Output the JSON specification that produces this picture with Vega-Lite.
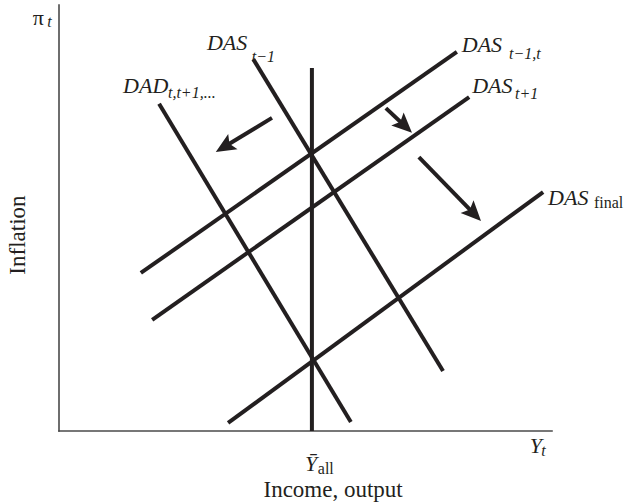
{
  "$schema": "https://vega.github.io/schema/vega-lite/v6.json",
  "width": 493,
  "height": 426,
  "autosize": {"type": "none"},
  "padding": {"left": 59, "top": 5, "right": 72, "bottom": 73},
  "background": "white",
  "config": {"view": {"stroke": null}},
  "datasets": {
    "frame": [
      {"side": "output axis", "x1": 0, "y1": 0, "x2": 100, "y2": 0},
      {"side": "inflation axis", "x1": 0, "y1": 0, "x2": 0, "y2": 100}
    ],
    "curves": [
      {"curve": "DAS t-1,t", "x1": 16.6, "y1": 37.1, "x2": 80.7, "y2": 89.0},
      {"curve": "DAS t+1", "x1": 18.9, "y1": 26.1, "x2": 83.2, "y2": 78.4},
      {"curve": "DAS final", "x1": 34.3, "y1": 1.9, "x2": 98.2, "y2": 56.1},
      {"curve": "DAD", "x1": 20.3, "y1": 76.8, "x2": 59.2, "y2": 2.1},
      {"curve": "DAS t-1", "x1": 39.4, "y1": 87.3, "x2": 77.9, "y2": 14.1},
      {"curve": "Y all", "x1": 51.3, "y1": 0, "x2": 51.3, "y2": 85.2}
    ],
    "arrows": [
      {"shift": "DAD left", "x": 43.2, "y": 73.5, "x2": 31.8, "y2": 65.5},
      {"shift": "DAS down", "x": 66.3, "y": 75.8, "x2": 71.6, "y2": 70.0},
      {"shift": "DAS final", "x": 73.0, "y": 64.3, "x2": 85.6, "y2": 49.3}
    ],
    "mainLabels": [
      {"label": "DAS", "x": 30.0, "y": 89.4},
      {"label": "DAD", "x": 13.0, "y": 79.3},
      {"label": "DAS", "x": 81.7, "y": 89.0},
      {"label": "DAS", "x": 83.8, "y": 79.3},
      {"label": "DAS", "x": 99.2, "y": 53.1},
      {"label": "Y", "x": 95.5, "y": -5.2},
      {"label": "Ȳ", "x": 49.9, "y": -9.4}
    ],
    "italicSubs": [
      {"label": "t−1", "x": 39.1, "y": 86.6},
      {"label": "t,t+1,...", "x": 22.1, "y": 78.2},
      {"label": "t−1,t", "x": 91.3, "y": 87.3},
      {"label": "t+1", "x": 92.5, "y": 77.9},
      {"label": "t", "x": 97.8, "y": -5.9},
      {"label": "t", "x": -2.4, "y": 94.8}
    ],
    "romanSubs": [
      {"label": "final", "x": 108.5, "y": 52.3},
      {"label": "all", "x": 52.5, "y": -10.1}
    ],
    "symbols": [
      {"label": "π", "x": -5.3, "y": 95.3}
    ],
    "xTitle": [
      {"label": "Income, output", "x": 55.6, "y": -15.5}
    ],
    "yTitle": [
      {"label": "Inflation", "x": -8.3, "y": 46.0}
    ]
  },
  "layer": [
    {
      "data": {"name": "frame"},
      "mark": {"type": "rule", "strokeWidth": 1.6, "strokeCap": "square", "color": "#4a4a4a"},
      "encoding": {
        "x": {"field": "x1", "type": "quantitative", "scale": {"domain": [0, 100], "nice": false, "zero": false}, "axis": null},
        "y": {"field": "y1", "type": "quantitative", "scale": {"domain": [0, 100], "nice": false, "zero": false}, "axis": null},
        "x2": {"field": "x2"},
        "y2": {"field": "y2"}
      }
    },
    {
      "data": {"name": "curves"},
      "mark": {"type": "rule", "strokeWidth": 4, "strokeCap": "butt", "color": "#231f20"},
      "encoding": {
        "x": {"field": "x1", "type": "quantitative", "scale": {"domain": [0, 100], "nice": false, "zero": false}, "axis": null},
        "y": {"field": "y1", "type": "quantitative", "scale": {"domain": [0, 100], "nice": false, "zero": false}, "axis": null},
        "x2": {"field": "x2"},
        "y2": {"field": "y2"}
      }
    },
    {
      "data": {"name": "arrows"},
      "transform": [
        {"calculate": "sqrt(pow((datum.x2 - datum.x) * 4.93, 2) + pow((datum.y2 - datum.y) * 4.26, 2))", "as": "len"},
        {"calculate": "datum.x2 - (datum.x2 - datum.x) * 12 / datum.len", "as": "xe"},
        {"calculate": "datum.y2 - (datum.y2 - datum.y) * 12 / datum.len", "as": "ye"}
      ],
      "mark": {"type": "rule", "strokeWidth": 4, "strokeCap": "butt", "color": "#231f20"},
      "encoding": {
        "x": {"field": "x", "type": "quantitative", "scale": {"domain": [0, 100], "nice": false, "zero": false}, "axis": null},
        "y": {"field": "y", "type": "quantitative", "scale": {"domain": [0, 100], "nice": false, "zero": false}, "axis": null},
        "x2": {"field": "xe"},
        "y2": {"field": "ye"}
      }
    },
    {
      "data": {"name": "arrows"},
      "transform": [
        {"calculate": "atan2((datum.x2 - datum.x) * 4.93, (datum.y2 - datum.y) * 4.26) * 180 / PI", "as": "heading"}
      ],
      "mark": {"type": "point", "shape": "M0,0L0.9,2L0,1.6L-0.9,2Z", "filled": true, "opacity": 1, "size": 400, "color": "#231f20", "strokeWidth": 0},
      "encoding": {
        "x": {"field": "x2", "type": "quantitative", "scale": {"domain": [0, 100], "nice": false, "zero": false}, "axis": null},
        "y": {"field": "y2", "type": "quantitative", "scale": {"domain": [0, 100], "nice": false, "zero": false}, "axis": null},
        "angle": {"field": "heading", "type": "quantitative", "scale": null}
      }
    },
    {
      "data": {"name": "mainLabels"},
      "mark": {"type": "text", "font": "Liberation Serif", "fontStyle": "italic", "fontSize": 22, "align": "left", "baseline": "alphabetic", "color": "#231f20"},
      "encoding": {
        "x": {"field": "x", "type": "quantitative", "scale": {"domain": [0, 100], "nice": false, "zero": false}, "axis": null},
        "y": {"field": "y", "type": "quantitative", "scale": {"domain": [0, 100], "nice": false, "zero": false}, "axis": null},
        "text": {"field": "label"}
      }
    },
    {
      "data": {"name": "italicSubs"},
      "mark": {"type": "text", "font": "Liberation Serif", "fontStyle": "italic", "fontSize": 16, "align": "left", "baseline": "alphabetic", "color": "#231f20"},
      "encoding": {
        "x": {"field": "x", "type": "quantitative", "scale": {"domain": [0, 100], "nice": false, "zero": false}, "axis": null},
        "y": {"field": "y", "type": "quantitative", "scale": {"domain": [0, 100], "nice": false, "zero": false}, "axis": null},
        "text": {"field": "label"}
      }
    },
    {
      "data": {"name": "romanSubs"},
      "mark": {"type": "text", "font": "Liberation Serif", "fontSize": 16, "align": "left", "baseline": "alphabetic", "color": "#231f20"},
      "encoding": {
        "x": {"field": "x", "type": "quantitative", "scale": {"domain": [0, 100], "nice": false, "zero": false}, "axis": null},
        "y": {"field": "y", "type": "quantitative", "scale": {"domain": [0, 100], "nice": false, "zero": false}, "axis": null},
        "text": {"field": "label"}
      }
    },
    {
      "data": {"name": "symbols"},
      "mark": {"type": "text", "font": "Liberation Serif", "fontSize": 22, "align": "left", "baseline": "alphabetic", "color": "#231f20"},
      "encoding": {
        "x": {"field": "x", "type": "quantitative", "scale": {"domain": [0, 100], "nice": false, "zero": false}, "axis": null},
        "y": {"field": "y", "type": "quantitative", "scale": {"domain": [0, 100], "nice": false, "zero": false}, "axis": null},
        "text": {"field": "label"}
      }
    },
    {
      "data": {"name": "xTitle"},
      "mark": {"type": "text", "font": "Liberation Serif", "fontSize": 23, "align": "center", "baseline": "alphabetic", "color": "#231f20"},
      "encoding": {
        "x": {"field": "x", "type": "quantitative", "scale": {"domain": [0, 100], "nice": false, "zero": false}, "axis": null},
        "y": {"field": "y", "type": "quantitative", "scale": {"domain": [0, 100], "nice": false, "zero": false}, "axis": null},
        "text": {"field": "label"}
      }
    },
    {
      "data": {"name": "yTitle"},
      "mark": {"type": "text", "font": "Liberation Serif", "fontSize": 23, "align": "center", "baseline": "middle", "angle": 270, "color": "#231f20"},
      "encoding": {
        "x": {"field": "x", "type": "quantitative", "scale": {"domain": [0, 100], "nice": false, "zero": false}, "axis": null},
        "y": {"field": "y", "type": "quantitative", "scale": {"domain": [0, 100], "nice": false, "zero": false}, "axis": null},
        "text": {"field": "label"}
      }
    }
  ]
}
